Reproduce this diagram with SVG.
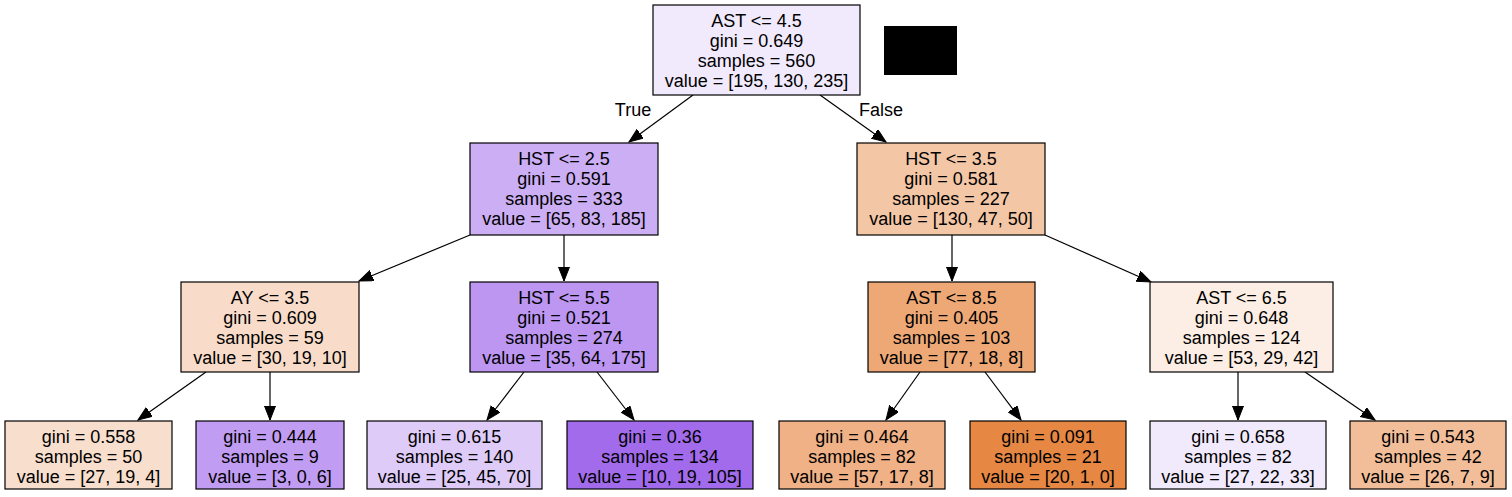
<svg xmlns="http://www.w3.org/2000/svg" width="1512" height="497" viewBox="0 0 1512 497">
<style>
.box{stroke:#000;stroke-width:1.2}
text{font-family:"Liberation Sans",Arial,Helvetica,sans-serif;font-size:18px;fill:#000;text-anchor:middle}
.edge{stroke:#000;stroke-width:1.2;fill:none;marker-end:url(#arr)}
</style>
<defs>
<marker id="arr" markerUnits="userSpaceOnUse" markerWidth="15" markerHeight="12" refX="14" refY="5.5" orient="auto">
<path d="M0,0 L14,5.5 L0,11 z" fill="#000" stroke="#000" stroke-width="1"/>
</marker>
</defs>
<rect width="1512" height="497" fill="#fff"/>
<g id="connectors">
<line class="edge" x1="693" y1="95" x2="629" y2="142"/>
<line class="edge" x1="820" y1="95" x2="886" y2="142"/>
<line class="edge" x1="470" y1="235" x2="359" y2="281"/>
<line class="edge" x1="564" y1="235" x2="564" y2="281"/>
<line class="edge" x1="952" y1="235" x2="952" y2="281"/>
<line class="edge" x1="1045" y1="235" x2="1151" y2="282"/>
<line class="edge" x1="206" y1="372" x2="138" y2="420"/>
<line class="edge" x1="270" y1="372" x2="270" y2="420"/>
<line class="edge" x1="524" y1="372" x2="487" y2="420"/>
<line class="edge" x1="597" y1="372" x2="634" y2="420"/>
<line class="edge" x1="920" y1="372" x2="886" y2="420"/>
<line class="edge" x1="985" y1="372" x2="1021" y2="420"/>
<line class="edge" x1="1238" y1="372" x2="1238" y2="420"/>
<line class="edge" x1="1305" y1="372" x2="1375" y2="420"/>
<text x="633" y="116">True</text>
<text x="881" y="116">False</text>
</g>
<rect x="884" y="26" width="73" height="49" fill="#000"/>
<g id="n0"><rect class="box" x="653" y="5" width="207" height="90" fill="#f1e9fc"/>
<text x="756.5" y="27">AST &lt;= 4.5</text><text x="756.5" y="47">gini = 0.649</text><text x="756.5" y="67">samples = 560</text><text x="756.5" y="87">value = [195, 130, 235]</text></g>
<g id="n1"><rect class="box" x="470" y="143" width="188" height="92" fill="#ccaef4"/>
<text x="564" y="165">HST &lt;= 2.5</text><text x="564" y="185">gini = 0.591</text><text x="564" y="205">samples = 333</text><text x="564" y="225">value = [65, 83, 185]</text></g>
<g id="n2"><rect class="box" x="857" y="143" width="188" height="92" fill="#f3c6a6"/>
<text x="951" y="165">HST &lt;= 3.5</text><text x="951" y="185">gini = 0.581</text><text x="951" y="205">samples = 227</text><text x="951" y="225">value = [130, 47, 50]</text></g>
<g id="n3"><rect class="box" x="181" y="282" width="178" height="90" fill="#f8dcc9"/>
<text x="270" y="304">AY &lt;= 3.5</text><text x="270" y="324">gini = 0.609</text><text x="270" y="344">samples = 59</text><text x="270" y="364">value = [30, 19, 10]</text></g>
<g id="n4"><rect class="box" x="470" y="282" width="188" height="90" fill="#bc96f1"/>
<text x="564" y="304">HST &lt;= 5.5</text><text x="564" y="324">gini = 0.521</text><text x="564" y="344">samples = 274</text><text x="564" y="364">value = [35, 64, 175]</text></g>
<g id="n5"><rect class="box" x="868" y="282" width="167" height="90" fill="#eda876"/>
<text x="951.5" y="304">AST &lt;= 8.5</text><text x="951.5" y="324">gini = 0.405</text><text x="951.5" y="344">samples = 103</text><text x="951.5" y="364">value = [77, 18, 8]</text></g>
<g id="n6"><rect class="box" x="1150" y="282" width="183" height="90" fill="#fceee4"/>
<text x="1241.5" y="304">AST &lt;= 6.5</text><text x="1241.5" y="324">gini = 0.648</text><text x="1241.5" y="344">samples = 124</text><text x="1241.5" y="364">value = [53, 29, 42]</text></g>
<g id="n7"><rect class="box" x="5" y="421" width="167" height="68" fill="#f8decc"/>
<text x="88.5" y="443">gini = 0.558</text><text x="88.5" y="463">samples = 50</text><text x="88.5" y="483">value = [27, 19, 4]</text></g>
<g id="n8"><rect class="box" x="196" y="421" width="148" height="68" fill="#c09cf2"/>
<text x="270" y="443">gini = 0.444</text><text x="270" y="463">samples = 9</text><text x="270" y="483">value = [3, 0, 6]</text></g>
<g id="n9"><rect class="box" x="367" y="421" width="175" height="68" fill="#decbf8"/>
<text x="454.5" y="443">gini = 0.615</text><text x="454.5" y="463">samples = 140</text><text x="454.5" y="483">value = [25, 45, 70]</text></g>
<g id="n10"><rect class="box" x="567" y="421" width="186" height="68" fill="#a16bec"/>
<text x="660" y="443">gini = 0.36</text><text x="660" y="463">samples = 134</text><text x="660" y="483">value = [10, 19, 105]</text></g>
<g id="n11"><rect class="box" x="779" y="421" width="166" height="68" fill="#efb185"/>
<text x="862" y="443">gini = 0.464</text><text x="862" y="463">samples = 82</text><text x="862" y="483">value = [57, 17, 8]</text></g>
<g id="n12"><rect class="box" x="970" y="421" width="156" height="68" fill="#e68743"/>
<text x="1048" y="443">gini = 0.091</text><text x="1048" y="463">samples = 21</text><text x="1048" y="483">value = [20, 1, 0]</text></g>
<g id="n13"><rect class="box" x="1150" y="421" width="176" height="68" fill="#f1e9fc"/>
<text x="1238" y="443">gini = 0.658</text><text x="1238" y="463">samples = 82</text><text x="1238" y="483">value = [27, 22, 33]</text></g>
<g id="n14"><rect class="box" x="1350" y="421" width="156" height="68" fill="#f2be99"/>
<text x="1428" y="443">gini = 0.543</text><text x="1428" y="463">samples = 42</text><text x="1428" y="483">value = [26, 7, 9]</text></g>
</svg>
